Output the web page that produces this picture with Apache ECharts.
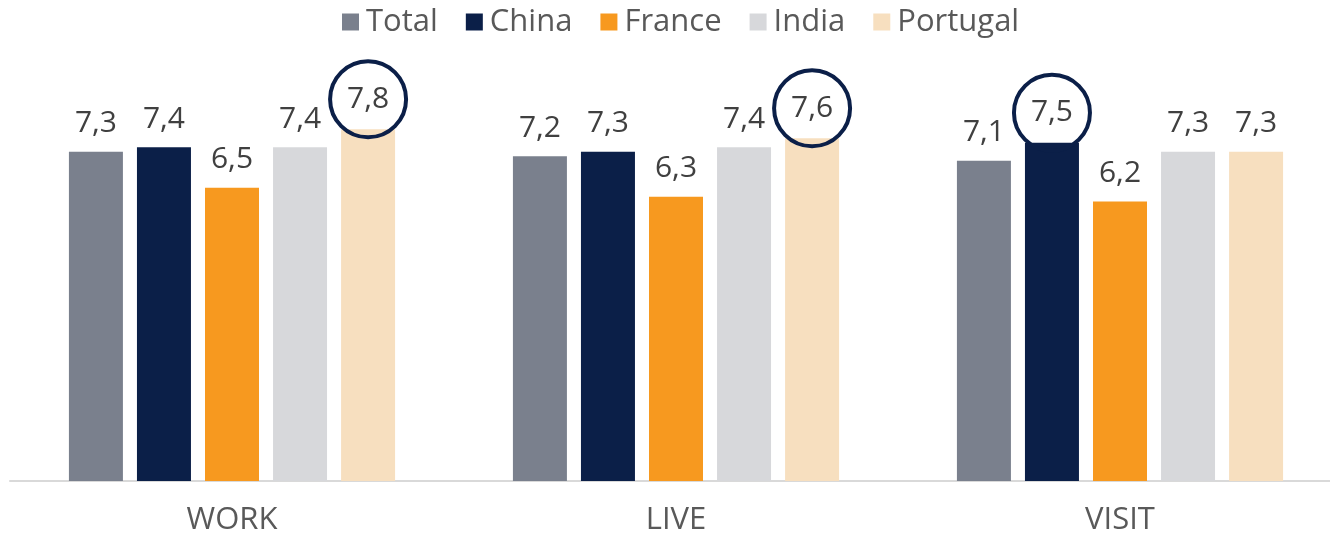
<!DOCTYPE html>
<html>
<head>
<meta charset="utf-8">
<script src="https://cdn.jsdelivr.net/npm/echarts@6/dist/echarts.min.js"></script>
<style>
  html, body { margin: 0; padding: 0; background: #fff; overflow: hidden; }
  #chart { width: 1344px; height: 536px; }
</style>
</head>
<body>
<div id="chart"></div>
<script>
// Ratings by purpose, per group
const categories = ['WORK', 'LIVE', 'VISIT'];
const seriesNames = ['Total', 'China', 'France', 'India', 'Portugal'];
const total    = [7.3, 7.2, 7.1];
const china    = [7.4, 7.3, 7.5];
const france   = [6.5, 6.3, 6.2];
const india    = [7.4, 7.4, 7.3];
const portugal = [7.8, 7.6, 7.3];
// Highest score in each category, drawn with a ring around its label
const highlighted = [[4, 0], [4, 1], [1, 2]]; // [series index, category index]

const colors = ['#7A808D', '#0B1F48', '#F7991F', '#D7D8DB', '#F7DFBF'];
const values = [total, china, france, india, portugal];
const FONT = '"Open Sans", "Noto Sans", sans-serif';
const TEXT = '#404040';

function isHighlighted(s, c) {
  return highlighted.some(h => h[0] === s && h[1] === c);
}

const series = values.map((vals, s) => ({
  name: seriesNames[s],
  type: 'bar',
  barWidth: 54,
  barGap: '26%',
  itemStyle: { color: colors[s] },
  label: {
    show: true,
    position: 'top',
    distance: 12,
    fontFamily: FONT,
    fontSize: 30,
    lineHeight: 32,
    color: TEXT,
    formatter: p => String(p.value).replace('.', ',')
  },
  data: vals.map((v, c) => isHighlighted(s, c) ? {
    value: v,
    label: {
      distance: 30,
      width: 76,
      height: 76,
      lineHeight: 76,
      align: 'center',
      verticalAlign: 'middle',
      borderColor: '#0B1F48',
      borderWidth: 4,
      borderRadius: 42,
      padding: 0
    }
  } : v)
}));

const chart = echarts.init(document.getElementById('chart'), null, { renderer: 'canvas' });
chart.setOption({
  animation: false,
  color: colors,
  legend: {
    top: -1,
    left: 337,
    icon: 'rect',
    itemWidth: 17,
    itemHeight: 17,
    itemGap: 28,
    textStyle: { fontFamily: FONT, fontSize: 31, lineHeight: 36, color: '#595959', padding: [0, 0, 0, 2] },
    data: seriesNames
  },
  grid: { left: 10, right: 2, top: 30, bottom: 55 },
  xAxis: {
    type: 'category',
    data: categories,
    axisTick: { show: false },
    axisLine: { lineStyle: { color: '#D9D9D9', width: 2 } },
    axisLabel: { margin: 24, fontFamily: FONT, fontSize: 31, color: '#595959' }
  },
  yAxis: {
    type: 'value',
    min: 0,
    max: 10,
    show: false,
    splitLine: { show: false }
  },
  series: series
});
</script>
</body>
</html>
